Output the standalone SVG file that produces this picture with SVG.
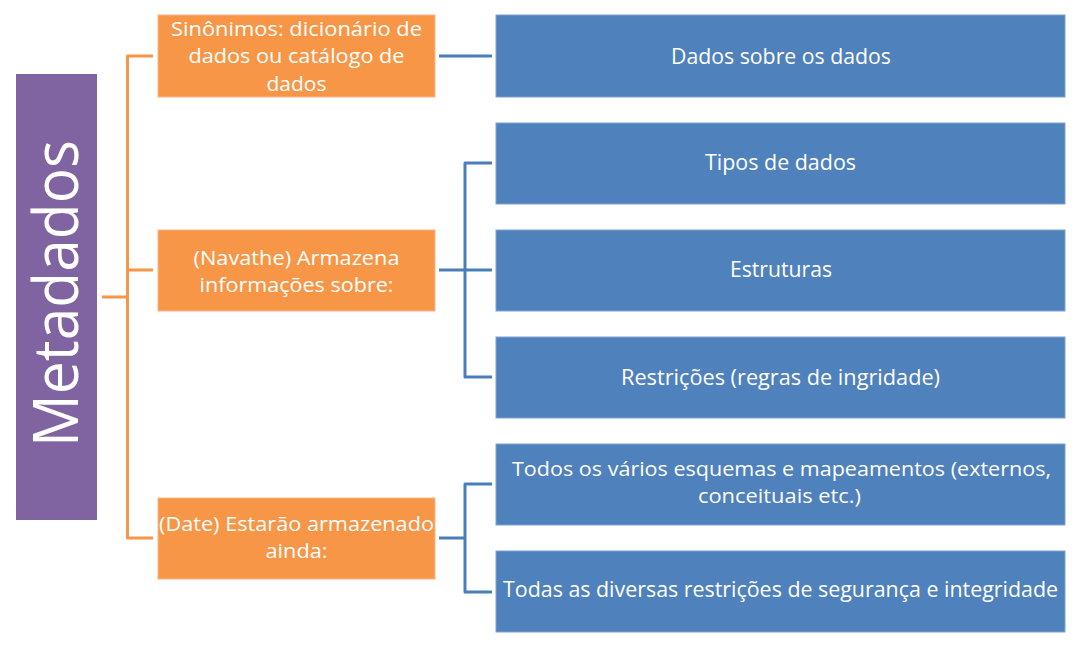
<svg xmlns="http://www.w3.org/2000/svg" width="1081" height="648" viewBox="0 0 1081 648">
<style>
.or{fill:#F79646;stroke:#FAB68A;stroke-width:1}
.bl{fill:#4F81BD;stroke:#7FA3D1;stroke-width:1}
.pu{fill:#8064A2}
.t{font-family:"Open Sans","Liberation Sans",sans-serif;fill:#FFFFFF;text-anchor:middle}
.to{font-size:20px}
.tb{font-size:21.5px}
.tb2{font-size:19.5px}
.co{fill:none;stroke:#F79646;stroke-width:3;stroke-linejoin:round}
.cb{fill:none;stroke:#4A7EBB;stroke-width:3;stroke-linejoin:round}
</style>
<rect x="0" y="0" width="1081" height="648" fill="#FFFFFF"/>
<g id="connectors">
<path class="co" d="M102 297H127.5M153 56H127.5V538H153M127.5 270H153"/>
<path class="cb" d="M439 56H492"/>
<path class="cb" d="M439 270H492M492 163H465V377H492"/>
<path class="cb" d="M439 538H465M492 484H465V592H492"/>
</g>
<g id="metadados">
<rect class="pu" x="16" y="74" width="81" height="446"/>
<text class="t" font-size="62" transform="translate(78,293.5) rotate(-90)" textLength="307" lengthAdjust="spacingAndGlyphs">Metadados</text>
</g>
<g id="sinonimos">
<rect class="or" x="158" y="15" width="277" height="82"/>
<text class="t to" x="296.5" y="36" textLength="251" lengthAdjust="spacingAndGlyphs">Sinônimos: dicionário de</text>
<text class="t to" x="296.5" y="63" textLength="216" lengthAdjust="spacingAndGlyphs">dados ou catálogo de</text>
<text class="t to" x="296.5" y="91" textLength="60" lengthAdjust="spacingAndGlyphs">dados</text>
</g>
<g id="navathe">
<rect class="or" x="158" y="230" width="277" height="81"/>
<text class="t to" x="296.5" y="265" textLength="206" lengthAdjust="spacingAndGlyphs">(Navathe) Armazena</text>
<text class="t to" x="296.5" y="292" textLength="194" lengthAdjust="spacingAndGlyphs">informações sobre:</text>
</g>
<g id="date">
<rect class="or" x="158" y="498" width="277" height="81"/>
<text class="t to" x="296.5" y="531" textLength="275" lengthAdjust="spacingAndGlyphs">(Date) Estarão armazenado</text>
<text class="t to" x="296.5" y="558" textLength="62" lengthAdjust="spacingAndGlyphs">ainda:</text>
</g>
<g id="dados-sobre">
<rect class="bl" x="496" y="15" width="569" height="82"/>
<text class="t tb" x="781" y="64" textLength="220" lengthAdjust="spacingAndGlyphs">Dados sobre os dados</text>
</g>
<g id="tipos">
<rect class="bl" x="496" y="123" width="569" height="81"/>
<text class="t tb" x="780.5" y="170" textLength="151" lengthAdjust="spacingAndGlyphs">Tipos de dados</text>
</g>
<g id="estruturas">
<rect class="bl" x="496" y="230" width="569" height="81"/>
<text class="t tb" x="781" y="277" textLength="102" lengthAdjust="spacingAndGlyphs">Estruturas</text>
</g>
<g id="restricoes">
<rect class="bl" x="496" y="337" width="569" height="81"/>
<text class="t tb" x="780.5" y="385" textLength="319" lengthAdjust="spacingAndGlyphs">Restrições (regras de ingridade)</text>
</g>
<g id="esquemas">
<rect class="bl" x="496" y="444" width="569" height="81"/>
<text class="t tb2" x="781.5" y="476" textLength="539" lengthAdjust="spacingAndGlyphs">Todos os vários esquemas e mapeamentos (externos,</text>
<text class="t tb2" x="779.5" y="503" textLength="163" lengthAdjust="spacingAndGlyphs">conceituais etc.)</text>
</g>
<g id="seguranca">
<rect class="bl" x="496" y="551" width="569" height="81"/>
<text class="t tb" x="780.5" y="597" textLength="555" lengthAdjust="spacingAndGlyphs">Todas as diversas restrições de segurança e integridade</text>
</g>
</svg>
